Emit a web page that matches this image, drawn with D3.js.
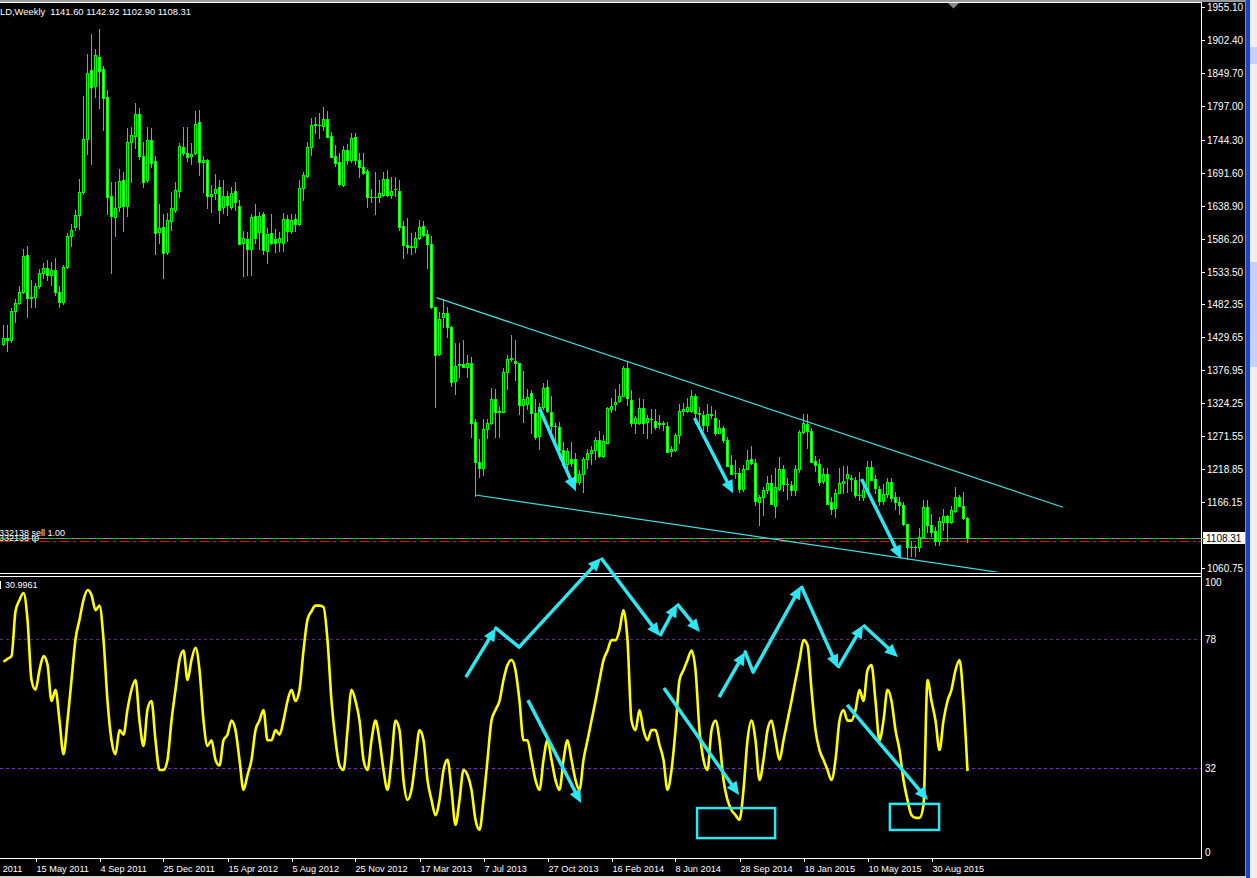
<!DOCTYPE html>
<html><head><meta charset="utf-8">
<script src="https://cdn.jsdelivr.net/npm/d3@7"></script>
<style>
html,body{margin:0;padding:0;background:#000;overflow:hidden;}
svg{display:block;}
text{font-family:"Liberation Sans",Arial,sans-serif;fill:#fff;white-space:pre;}
</style></head><body>
<svg id="c" width="1257" height="878"></svg>
<script>
// ---- DATA ----
const firstWeek = "2011-03-20"; // weekly bars, one per week
const opens = [1418,1428,1424,1471,1484,1502,1560,1491,1493,1510,1532,1540,1528,1536,1501,1485,1541,1590,1605,1624,1660,1745,1855,1830,1876,1857,1812,1655,1620,1636,1680,1638,1740,1750,1785,1718,1680,1743,1710,1597,1605,
1565,1614,1632,1662,1733,1723,1718,1723,1772,1709,1712,1655,1659,1668,1637,1654,1636,1663,1638,1580,1586,1569,1622,1597,1625,1566,1595,1586,1581,1579,1618,1598,1618,1610,1667,1686,1732,1768,1768,1766,1777,1750,1718,1708,1672,1727,1712,1748,1711,1700,1694,1652,1653,
1652,1656,1681,1656,1665,1663,1606,1576,1573,1573,1588,1606,1593,1577,1478,1403,1461,1467,1445,1359,1385,1386,1382,1388,1294,1230,1220,1283,1292,1331,1310,1310,1374,1394,1392,1388,1321,1323,1340,1308,1271,1318,1350,1310,1288,1286,1250,1227,1235,1235,1199,1211,
1235,1244,1249,1266,1239,1261,1314,1323,1327,1336,1380,1329,1292,1292,1316,1294,1298,1296,1290,1291,1288,1248,1250,1273,1312,1312,1312,1336,1309,1305,1289,1307,1300,1277,1284,1266,1226,1212,1213,1187,1219,1235,1228,1166,1174,1185,1197,1160,1187,1219,1195,1194,
1185,1219,1278,1290,1280,1232,1227,1200,1211,1166,1157,1180,1196,1205,1205,1202,1177,1175,1185,1222,1203,1187,1168,1179,1198,1174,1166,1161,1131,1095,1094,1094,1110,1158,1130,1121,1105,1135,1144,1135,1152,1174,1160,1141.60];
const highs = [1448,1448,1476,1490,1510,1569,1575,1520,1515,1538,1548,1552,1549,1556,1510,1545,1595,1610,1632,1681,1814,1881,1913,1889,1920,1861,1824,1677,1677,1697,1692,1762,1764,1802,1795,1740,1764,1763,1718,1642,1625,
1627,1660,1676,1739,1764,1765,1738,1790,1792,1718,1713,1672,1690,1680,1680,1663,1668,1677,1648,1598,1597,1626,1641,1628,1628,1604,1625,1601,1597,1627,1624,1625,1625,1680,1692,1741,1779,1780,1787,1796,1790,1757,1736,1723,1734,1737,1754,1754,1723,1723,1697,1666,1693,
1679,1693,1696,1684,1684,1680,1614,1619,1595,1597,1616,1614,1600,1590,1478,1470,1488,1478,1447,1420,1420,1424,1400,1397,1298,1267,1298,1298,1348,1347,1320,1380,1400,1433,1425,1388,1375,1346,1345,1330,1324,1356,1361,1336,1293,1294,1262,1253,1262,1245,1218,1238,
1251,1255,1270,1279,1273,1318,1332,1346,1354,1384,1392,1345,1303,1332,1330,1305,1315,1315,1305,1296,1294,1255,1277,1323,1325,1332,1345,1339,1318,1311,1322,1320,1313,1297,1288,1270,1241,1233,1221,1225,1250,1255,1235,1178,1190,1208,1210,1220,1238,1226,1205,1200,
1226,1282,1307,1306,1284,1240,1235,1220,1220,1175,1187,1220,1224,1224,1209,1207,1214,1195,1232,1232,1210,1192,1195,1205,1205,1182,1175,1167,1132,1105,1098,1125,1170,1170,1147,1126,1142,1156,1145,1160,1191,1178,1183,1142.92];
const lows = [1417,1407,1422,1453,1482,1500,1462,1478,1478,1508,1523,1521,1513,1496,1478,1482,1540,1575,1600,1602,1657,1722,1705,1812,1795,1760,1625,1532,1590,1630,1598,1623,1676,1731,1714,1668,1676,1700,1562,1580,1523,
1562,1600,1628,1652,1720,1710,1705,1722,1688,1660,1635,1628,1650,1612,1627,1624,1633,1632,1577,1527,1528,1528,1579,1570,1562,1547,1577,1565,1567,1566,1582,1595,1598,1608,1648,1685,1720,1754,1746,1760,1755,1718,1702,1672,1670,1705,1709,1705,1684,1690,1636,1645,1626,
1645,1654,1655,1651,1655,1600,1555,1564,1562,1565,1585,1590,1539,1475,1318,1400,1445,1430,1352,1338,1365,1381,1366,1270,1176,1207,1210,1268,1291,1270,1270,1311,1346,1392,1361,1307,1294,1315,1277,1267,1251,1314,1310,1280,1262,1236,1223,1211,1224,1185,1195,1182,
1220,1227,1235,1238,1238,1260,1310,1313,1326,1335,1321,1288,1277,1290,1277,1268,1277,1283,1284,1282,1246,1240,1248,1261,1305,1310,1310,1292,1288,1281,1280,1300,1274,1277,1262,1224,1211,1205,1183,1184,1219,1227,1161,1129,1145,1180,1164,1142,1186,1184,1171,1178,
1177,1214,1277,1252,1231,1216,1193,1196,1163,1147,1142,1180,1180,1183,1184,1175,1170,1170,1183,1201,1180,1162,1163,1174,1168,1156,1147,1130,1075,1080,1080,1088,1110,1118,1112,1098,1098,1122,1105,1133,1150,1160,1140,1102.90];
const closes = [1428,1424,1471,1484,1502,1558,1491,1493,1510,1532,1540,1528,1536,1501,1485,1541,1590,1600,1624,1660,1745,1850,1828,1879,1853,1811,1652,1622,1635,1678,1638,1740,1751,1785,1718,1676,1743,1707,1596,1603,1563,
1616,1635,1664,1734,1723,1717,1722,1769,1709,1711,1655,1658,1665,1632,1654,1640,1659,1645,1578,1588,1569,1620,1588,1623,1568,1593,1579,1580,1588,1618,1598,1616,1610,1667,1688,1732,1768,1769,1767,1777,1749,1717,1707,1673,1728,1712,1746,1711,1700,1691,1652,1653,1652,
1659,1681,1656,1663,1666,1605,1576,1573,1575,1588,1605,1592,1577,1478,1400,1458,1467,1445,1357,1383,1386,1382,1388,1293,1230,1220,1283,1292,1331,1310,1312,1374,1394,1396,1388,1321,1330,1334,1308,1270,1318,1348,1312,1288,1287,1250,1226,1248,1228,1199,1211,1235,
1245,1250,1266,1239,1264,1316,1320,1326,1336,1380,1333,1292,1300,1316,1293,1300,1299,1286,1293,1292,1246,1251,1273,1312,1314,1318,1336,1309,1306,1289,1307,1305,1277,1284,1266,1224,1211,1213,1187,1219,1234,1228,1168,1174,1185,1197,1164,1190,1219,1195,1195,1185,
1219,1278,1292,1280,1231,1226,1199,1211,1164,1155,1180,1196,1200,1211,1203,1177,1177,1185,1222,1202,1188,1168,1179,1198,1173,1166,1161,1131,1095,1094,1095,1110,1158,1130,1118,1105,1136,1144,1135,1153,1174,1160,1141.6,1108.31];
// oscillator value of each weekly bar (0..100), last = 30.9961
const osc = [70,71,72,88,92,94.5,85,63.5,60,67,72,69,56,60,49,37,49,63.5,78,85,92,95.6,93.8,88.4,90,78,56,42,37,45.6,44,53,60,63.5,49,40,53,56,42,31.4,31.4,
35,49,60,70.6,74,63.5,70.6,75,67,49,40,42,35,33,42,44,49,45.6,35,24.3,29.6,35,45.6,49,52.8,42,42,45.6,44,49,56,60,56,60,74,85,88,90,90,89.5,77.7,56,42,33,31.4,45.6,60,56,49,35,31.4,42,49,
42,31.4,24.3,35,49,45.6,27.8,20.7,24.3,35,45.6,42,27.8,20.7,15.3,20.7,31.4,35,24.3,11.8,20.7,31.4,29.6,24.3,13.6,10,20.7,35,49,52.8,56,63.5,68.8,70.6,67,56,42,42,35,27.8,24.3,35,42,35,27.8,24.3,35,
42,35,27.8,24.3,35,42,49,56,63.5,70.6,74,77.7,77.7,81.3,88.4,77.7,49,45.6,52.8,45.6,42,45.6,45.6,40.3,35,24.3,31.4,45.6,63.5,67,70.6,74,67,45.6,35,31.4,45.6,49,42,27.8,20.7,17.1,15.3,13.6,24.3,42,49,42,27.8,
35,45.6,49,42,35,42,49,56,63.5,70.6,77.7,76,60,45.6,38.5,35,31.4,27.8,35,49,52.8,49,49,52.8,60,56,67,68.8,56,42,49,60,56,45.6,38.5,27.8,20.7,15.3,14.3,14.3,18.9,63.5,56,49,38.5,49,56,60,67,70.6,56,30.9961];
const priceTicks = [1955.10,1902.40,1849.70,1797.00,1744.30,1691.60,1638.90,1586.20,1533.50,1482.35,1429.65,1376.95,1324.25,1271.55,1218.85,1166.15,1060.75];
const dateTickLabels = ["23 Jan 2011","15 May 2011","4 Sep 2011","25 Dec 2011","15 Apr 2012","5 Aug 2012","25 Nov 2012","17 Mar 2013","7 Jul 2013","27 Oct 2013","16 Feb 2014","8 Jun 2014","28 Sep 2014","18 Jan 2015","10 May 2015","30 Aug 2015"];
const dateTickBars = [-8,8,24,40,56,72,88,104,120,136,152,168,184,200,216,232];
const oscLevels = [78,32];
const titleText = "LD,Weekly  1141.60 1142.92 1102.90 1108.31";
const oscLabel = "30.9961";
const lastPrice = 1108.31;
// analysis drawings, in (bar index, price) / (bar index, oscillator value)
const trendUpper = [[108.25,1492.2],[264.9,1158.0]];
const trendLower = [[118,1177.6],[250,1053.1]];
const priceArrows = [[[134,1315.4],[143,1184.5]],[[172.75,1300.4],[182.4,1180.4]],[[214.5,1203.1],[224.4,1075.9]]];
const oscArrows = [
 [[115.6,64.5],[123.1,82.0]],[[128.9,75.2],[149.4,107.0]],[[149.4,107.0],[164.1,79.2]],[[164.1,79.2],[168.4,90.6]],[[168.4,90.6],[174.1,80.6]],
 [[178.9,57.4],[185.4,73.5]],[[187.4,66.3],[199.4,97.0]],[[199.4,97.0],[208.6,67.8]],[[208.6,67.8],[214.9,83.1]],[[214.9,83.1],[223.6,71.7]],
 [[131.1,56.3],[144.4,19.6]],[[165.1,60.6],[183.9,22.5]],[[210.9,54.6],[231.1,20.7]]];
const oscSegments = [[[123.1,82.0],[128.9,75.2]],[[185.4,73.5],[187.4,66.3]]];
const oscBoxes = [[[173.4,17.8],[192.9,7.1]],[[221.6,19.3],[233.9,10.0]]];

// ---- LAYOUT ----
const W = 1257, H = 878, plotR = 1201;
const svg = d3.select("#c");
const n = opens.length;
const x = d3.scaleLinear().domain([0, n-1]).range([3.5, 3.5 + 4*(n-1)]);
const y = d3.scaleLinear().domain([1060.75, 1955.10]).range([568.3, 7.3]);
const y2 = d3.scaleLinear().domain([0, 100]).range([858, 577.6]);
const LIME = "#00ff00", CYAN = "#2ee6f2";

svg.append("rect").attr("width", W).attr("height", H).attr("fill", "#000");

const defs = svg.append("defs");
defs.append("clipPath").attr("id","cpMain").append("rect").attr("x",0).attr("y",4).attr("width",plotR).attr("height",568);
defs.append("clipPath").attr("id","cpOsc").append("rect").attr("x",0).attr("y",577).attr("width",plotR).attr("height",281);

// ---- MAIN PANE ----
const gMain = svg.append("g").attr("clip-path","url(#cpMain)");
const yb = Math.round(y(lastPrice));
gMain.append("line").attr("x1",0).attr("x2",plotR).attr("y1",yb+0.5).attr("y2",yb+0.5)
  .attr("stroke","#8c8c9c").attr("stroke-width",1);
gMain.append("line").attr("x1",0).attr("x2",plotR).attr("y1",yb+0.5).attr("y2",yb+0.5)
  .attr("stroke","#00c800").attr("stroke-width",1).attr("stroke-dasharray","8,8");
gMain.append("line").attr("x1",0).attr("x2",plotR).attr("y1",yb+3.5).attr("y2",yb+3.5)
  .attr("stroke","#ff0000").attr("stroke-width",1).attr("stroke-dasharray","9,4,3,4");

const bars = d3.range(n).map(i => ({i, o:opens[i], h:highs[i], l:lows[i], c:closes[i]}));
const top_ = d => Math.round(y(Math.max(d.o,d.c))), bot_ = d => Math.round(y(Math.min(d.o,d.c)));
const gC = gMain.append("g").attr("shape-rendering","crispEdges");
gC.selectAll("rect.wick").data(bars).join("rect").attr("class","wick")
  .attr("x", d => x(d.i)-0.5).attr("width",1)
  .attr("y", d => Math.round(y(d.h))).attr("height", d => Math.max(1, Math.round(y(d.l))-Math.round(y(d.h))+1))
  .attr("fill", LIME);
gC.selectAll("rect.body").data(bars).join("rect").attr("class","body")
  .attr("x", d => x(d.i)-1.5).attr("width",3)
  .attr("y", top_).attr("height", d => Math.max(1, bot_(d)-top_(d)+1))
  .attr("fill", LIME);
gC.selectAll("rect.inner").data(bars.filter(d => bot_(d)-top_(d) >= 2)).join("rect").attr("class","inner")
  .attr("x", d => x(d.i)-0.5).attr("width",1)
  .attr("y", d => top_(d)+1).attr("height", d => bot_(d)-top_(d)-1)
  .attr("fill", d => d.c < d.o ? "#ffffff" : "#000000");

[trendUpper, trendLower].forEach(t => {
  gMain.append("line").attr("x1",x(t[0][0])).attr("y1",y(t[0][1])).attr("x2",x(t[1][0])).attr("y2",y(t[1][1]))
   .attr("stroke","#3fdede").attr("stroke-width",1.2);
});

gMain.append("text").attr("x",-1).attr("y",536).attr("font-size",9).text("332138 sell 1.00");
gMain.append("text").attr("x",-1).attr("y",541).attr("font-size",9).text("332138 tp");

// ---- OSC PANE ----
const gOsc = svg.append("g").attr("clip-path","url(#cpOsc)");
oscLevels.forEach(v => {
  gOsc.append("line").attr("x1",0).attr("x2",plotR).attr("y1",Math.round(y2(v))+0.5).attr("y2",Math.round(y2(v))+0.5)
   .attr("stroke", v===32 ? "#7a2fc0" : "#5a2d78").attr("stroke-width",1).attr("stroke-dasharray","3,3");
});
const line = d3.line().x((d,i) => x(i)).y(d => y2(d)).curve(d3.curveMonotoneX);
gOsc.append("path").datum(osc).attr("d", line).attr("fill","none").attr("stroke","#ffff00").attr("stroke-width",2.6).attr("stroke-linejoin","round");
svg.append("rect").attr("x",0).attr("y",581).attr("width",1).attr("height",8).attr("fill","#fff");
svg.append("text").attr("x",5).attr("y",588).attr("font-size",9).text(oscLabel);

// ---- FRAMES & AXES ----
const frame = svg.append("g").attr("shape-rendering","crispEdges");
frame.append("rect").attr("x",0).attr("y",0).attr("width",W).attr("height",2).attr("fill","#9a9a9a");
frame.append("line").attr("x1",0).attr("x2",plotR+1).attr("y1",2.5).attr("y2",2.5).attr("stroke","#fff");
frame.append("line").attr("x1",plotR+0.5).attr("x2",plotR+0.5).attr("y1",2).attr("y2",859).attr("stroke","#fff");
frame.append("line").attr("x1",0).attr("x2",plotR+1).attr("y1",573.5).attr("y2",573.5).attr("stroke","#fff");
frame.append("line").attr("x1",0).attr("x2",plotR+1).attr("y1",576.5).attr("y2",576.5).attr("stroke","#fff");
frame.append("line").attr("x1",0).attr("x2",plotR+1).attr("y1",858.5).attr("y2",858.5).attr("stroke","#fff");

svg.append("path").attr("d", d3.line()([[948,3],[959,3],[953.5,8.5]])).attr("fill","#8a8a8a");

const gP = svg.append("g");
priceTicks.forEach(p => {
  const yy = Math.round(y(p))+0.5;
  gP.append("line").attr("x1",plotR+1).attr("x2",plotR+4).attr("y1",yy).attr("y2",yy).attr("stroke","#fff").attr("shape-rendering","crispEdges");
  gP.append("text").attr("x",plotR+6).attr("y",yy+3.5).attr("font-size",10).text(p.toFixed(2));
});
gP.append("rect").attr("x",plotR+2).attr("y",yb-6).attr("width",42).attr("height",12).attr("fill","#fff");
gP.append("text").attr("x",plotR+5).attr("y",yb+4).attr("font-size",10).style("fill","#000").text(lastPrice.toFixed(2));
gP.append("line").attr("x1",plotR+1).attr("x2",plotR+4).attr("y1",yb+0.5).attr("y2",yb+0.5).attr("stroke","#00c800");
gP.append("line").attr("x1",plotR-3).attr("x2",plotR+0).attr("y1",yb+3.5).attr("y2",yb+3.5).attr("stroke","#ff0000");

[[100,582.5],[78,null],[32,null],[0,852.5]].forEach(([v,pos]) => {
  const yy = pos === null ? y2(v) : pos;
  gP.append("text").attr("x",plotR+4).attr("y",yy+3.5).attr("font-size",10).text(String(v));
});

const gD = svg.append("g");
dateTickBars.forEach((b,k) => {
  const xx = Math.round(x(b))+0.5;
  gD.append("line").attr("x1",xx).attr("x2",xx).attr("y1",858).attr("y2",862).attr("stroke","#fff").attr("shape-rendering","crispEdges");
  gD.append("text").attr("x",xx).attr("y",872).attr("font-size",9.2).text(dateTickLabels[k]);
});

svg.append("text").attr("x",0).attr("y",15).attr("font-size",9.4).text(titleText);

// ---- ANNOTATIONS ----
const gA = svg.append("g");
function arrow(p0, p1) {
  const dx = p1[0]-p0[0], dy = p1[1]-p0[1], L = Math.hypot(dx,dy), ux = dx/L, uy = dy/L;
  const hl = 13, hw = 6;
  const bx = p1[0]-ux*hl, by = p1[1]-uy*hl;
  gA.append("line").attr("x1",p0[0]).attr("y1",p0[1]).attr("x2",bx+ux*2).attr("y2",by+uy*2)
    .attr("stroke",CYAN).attr("stroke-width",3.5);
  gA.append("path").attr("d", d3.line()([[p1[0],p1[1]],[bx-uy*hw,by+ux*hw],[bx+uy*hw,by-ux*hw]])+"Z").attr("fill",CYAN);
}
priceArrows.forEach(a => arrow([x(a[0][0]),y(a[0][1])],[x(a[1][0]),y(a[1][1])]));
oscArrows.forEach(a => arrow([x(a[0][0]),y2(a[0][1])],[x(a[1][0]),y2(a[1][1])]));
oscSegments.forEach(a => gA.append("line").attr("x1",x(a[0][0])).attr("y1",y2(a[0][1])).attr("x2",x(a[1][0])).attr("y2",y2(a[1][1]))
  .attr("stroke",CYAN).attr("stroke-width",3.5).attr("stroke-linecap","round"));
oscBoxes.forEach(b => {
  const x0 = x(b[0][0]), x1 = x(b[1][0]), ya = y2(b[0][1]), yb2 = y2(b[1][1]);
  gA.append("rect").attr("x",x0).attr("y",ya).attr("width",x1-x0).attr("height",yb2-ya)
    .attr("fill","none").attr("stroke",CYAN).attr("stroke-width",2.5);
});

const gW = svg.append("g").attr("shape-rendering","crispEdges");
gW.append("rect").attr("x",1245).attr("y",0).attr("width",1).attr("height",H).attr("fill","#7f8fb0");
gW.append("rect").attr("x",1246).attr("y",0).attr("width",4).attr("height",H).attr("fill","#1a44d8");
gW.append("rect").attr("x",1250).attr("y",0).attr("width",7).attr("height",H).attr("fill","#f1efe6");
gW.append("rect").attr("x",1250).attr("y",47).attr("width",7).attr("height",17).attr("fill","#c3d3fd");
gW.append("rect").attr("x",1250).attr("y",262).attr("width",7).attr("height",105).attr("fill","#c3d3fd");
gW.append("rect").attr("x",0).attr("y",876).attr("width",1246).attr("height",2).attr("fill","#d8d4c8");
</script>
</body></html>
